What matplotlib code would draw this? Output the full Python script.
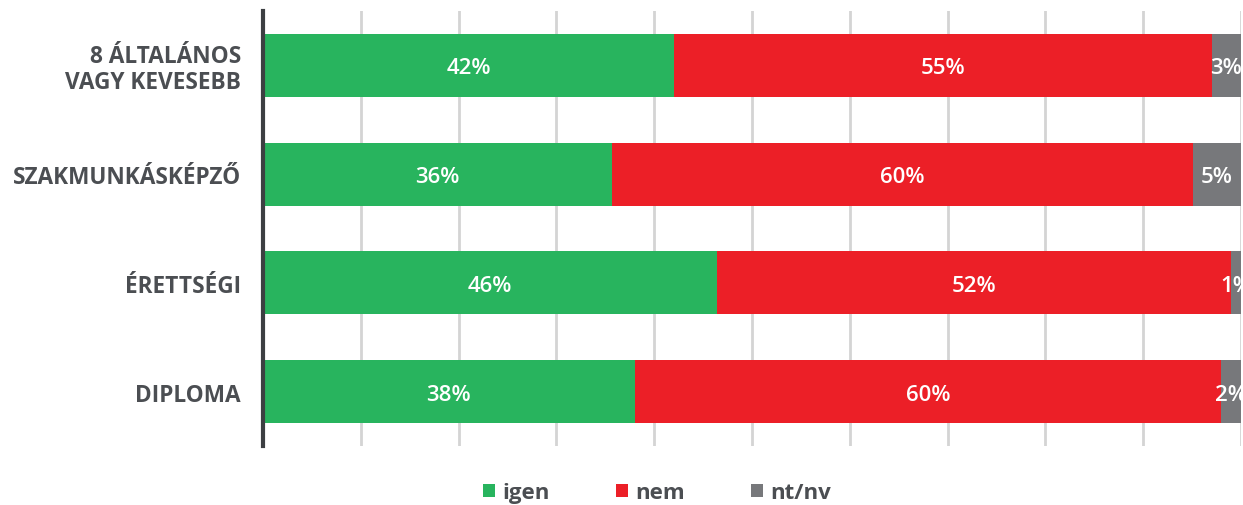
import numpy as np
import matplotlib

matplotlib.use("Agg")
import matplotlib.pyplot as plt
from matplotlib.patches import Patch

# survey answers by education level (percent)
categories = ["8 ÁLTALÁNOS\nVAGY KEVESEBB", "SZAKMUNKÁSKÉPZŐ", "ÉRETTSÉGI", "DIPLOMA"]
igen = [42, 36, 46, 38]
nem = [55, 60, 52, 60]
ntnv = [3, 5, 1, 2]
series_names = ["igen", "nem", "nt/nv"]
colors = ["#28b45e", "#ec1f27", "#77787b"]
text_color = "#4b4e52"

plt.rcParams["font.family"] = ["Open Sans", "DejaVu Sans"]

fig = plt.figure(figsize=(12.43, 5.06), dpi=100)
ax = fig.add_axes([0.2116, 0.1166, 0.7868, 0.8597])

data = np.array([igen, nem, ntnv], dtype=float)
shares = data / data.sum(axis=0) * 100  # stack to full width
y = np.arange(len(categories))

left = np.zeros(len(categories))
for vals, shown, name, col in zip(shares, data, series_names, colors):
    ax.barh(y, vals, left=left, height=0.58, color=col, label=name, zorder=3)
    for yi, l, v, s in zip(y, left, vals, shown):
        ax.text(l + v / 2, yi, f"{s:.0f}%", ha="center", va="center_baseline",
                color="white", fontsize=16, fontweight="semibold", zorder=4)
    left += vals

ax.set_xlim(0, 100)
ax.set_ylim(3.5, -0.5)
ax.set_xticks(np.arange(0, 101, 10))
ax.xaxis.grid(True, color="#d4d4d4", linewidth=2, zorder=0)
ax.tick_params(axis="x", length=0, labelbottom=False)
ax.tick_params(axis="y", length=0, pad=16)
ax.set_yticks(y)
ax.set_yticklabels(categories, fontsize=16.3, fontweight="bold", color=text_color,
                   linespacing=1.1)
for side in ["top", "right", "bottom"]:
    ax.spines[side].set_visible(False)
ax.spines["left"].set_color("#3c3f42")
ax.spines["left"].set_linewidth(3)
ax.spines["left"].set_zorder(5)

handles = [Patch(facecolor=c, edgecolor="none") for c in colors]
leg = fig.legend(handles, series_names, loc="center", ncol=3,
                 bbox_to_anchor=(657 / 1243, 1 - 494 / 506), frameon=False,
                 handlelength=0.55, handleheight=0.55, handletextpad=0.3,
                 columnspacing=3.0, prop={"size": 16, "weight": "bold"})
for t in leg.get_texts():
    t.set_color(text_color)

fig.savefig("out.png", dpi=100)
